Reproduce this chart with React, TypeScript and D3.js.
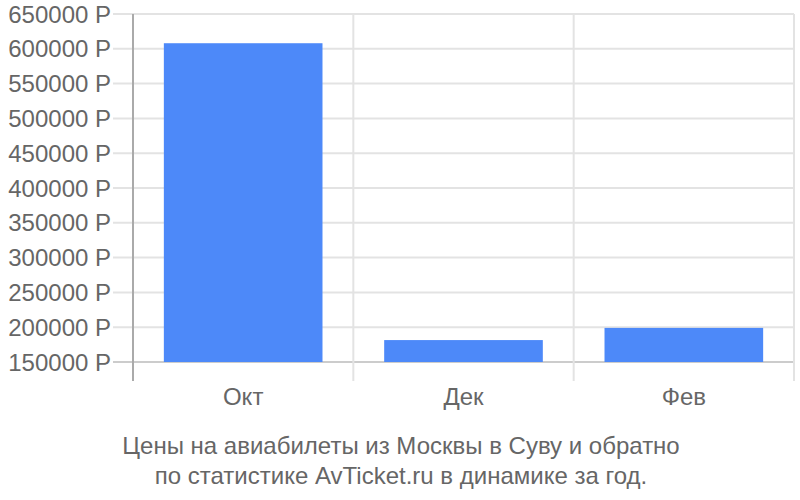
import { useEffect, useRef } from 'react';
import * as d3 from 'd3';

const categories = ['Окт', 'Дек', 'Фев'];
const prices = [608000, 181500, 199000];
const yTicks = [150000, 200000, 250000, 300000, 350000, 400000, 450000, 500000, 550000, 600000, 650000];
const titleLines = [
  'Цены на авиабилеты из Москвы в Суву и обратно',
  'по статистике AvTicket.ru в динамике за год.',
];

export default function App() {
  const svgRef = useRef<SVGSVGElement>(null);

  useEffect(() => {
    if (!svgRef.current) return;
    const svg = d3.select(svgRef.current);
    svg.selectAll('*').remove();

    const font = '"Liberation Sans", Arial, sans-serif';
    const left = 133, right = 794, top = 14, base = 362, axisEnd = 381;

    const x = d3.scaleBand<string>().domain(categories).range([left, right])
      .paddingInner(0.28).paddingOuter(0.14);
    const y = d3.scaleLinear().domain([150000, 650000]).range([base, top]);
    const step = x.step();

    // horizontal grid
    yTicks.forEach(v => {
      svg.append('line').attr('x1', 113).attr('x2', right).attr('y1', y(v)).attr('y2', y(v))
        .attr('stroke', v === 150000 ? '#cccccc' : '#e3e3e3').attr('stroke-width', 2);
    });
    // vertical grid at category boundaries
    categories.forEach((_, i) => {
      const gx = left + step * (i + 1);
      svg.append('line').attr('x1', gx).attr('x2', gx).attr('y1', top).attr('y2', axisEnd)
        .attr('stroke', '#e3e3e3').attr('stroke-width', 2);
    });
    // left axis
    svg.append('line').attr('x1', left).attr('x2', left).attr('y1', top).attr('y2', axisEnd)
      .attr('stroke', '#aaaaaa').attr('stroke-width', 2);

    // bars
    svg.selectAll('rect.bar').data(prices).enter().append('rect')
      .attr('x', (_, i) => x(categories[i])!)
      .attr('width', x.bandwidth())
      .attr('y', d => y(d))
      .attr('height', d => base - y(d))
      .attr('fill', '#4d89f9');

    // y labels
    yTicks.forEach(v => {
      svg.append('text').attr('x', 111).attr('y', y(v)).attr('text-anchor', 'end')
        .attr('dominant-baseline', 'central').attr('fill', '#666666')
        .attr('font-size', 24).attr('font-family', font).text(`${v} Р`);
    });
    // x labels
    categories.forEach(c => {
      svg.append('text').attr('x', x(c)! + x.bandwidth() / 2).attr('y', 405).attr('text-anchor', 'middle')
        .attr('fill', '#666666').attr('font-size', 24).attr('font-family', font).text(c);
    });
    // title
    titleLines.forEach((t, i) => {
      svg.append('text').attr('x', 401).attr('y', 454 + i * 30).attr('text-anchor', 'middle')
        .attr('fill', '#666666').attr('font-size', 24).attr('font-family', font).text(t);
    });
  }, []);

  return (
    <svg ref={svgRef} width={800} height={500}
      style={{ position: 'absolute', left: 0, top: 0, background: '#ffffff' }} />
  );
}
